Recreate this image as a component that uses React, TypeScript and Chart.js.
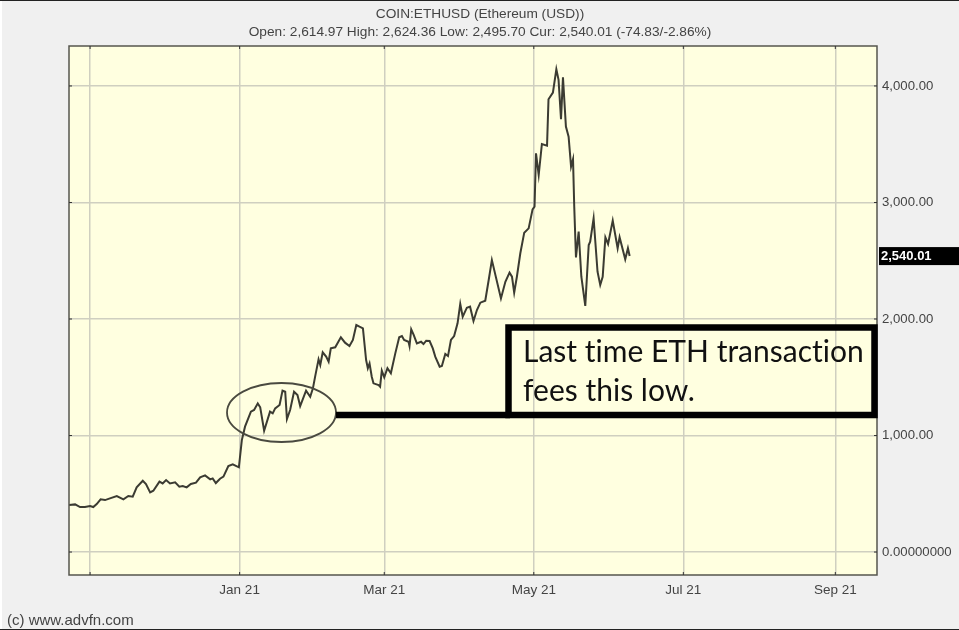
import React, { useEffect, useRef } from "react";
import { Chart, registerables } from "chart.js";

Chart.register(...registerables);

const TITLE = "COIN:ETHUSD (Ethereum (USD))";
const SUBTITLE = "Open: 2,614.97 High: 2,624.36 Low: 2,495.70 Cur: 2,540.01 (-74.83/-2.86%)";
const CREDIT = "(c) www.advfn.com";
const NOTE_LINES = ["Last time ETH transaction", "fees this low."];
const CURRENT_LABEL = "2,540.01";
const CURRENT_VALUE = 2540.01;

// Days since 1 Jan 2021
const days = [
  -69.6, -67.1, -65.1, -63.1, -61, -59.7, -58.3, -56.7, -54.9, -52.9, -50.1, -47.4, -45.4, -43.6, -42, -39.5, -38.2,
  -36.5, -35.2, -32.7, -31.4, -30, -28.4, -26.3, -24.6, -23.2, -21.6, -19.9, -17.8, -16.1, -14.1, -12, -11, -9.7, -8,
  -6.6, -4.6, -2.8, -0.3, 0.9, 2.2, 4.6, 5.9, 7.4, 8.4, 10, 12.4, 13.5, 14.5, 16.3, 17.5, 18.6, 19.3, 20.6, 22.2, 23.6,
  24.7, 27.1, 28.8, 29.9, 30.8, 32.2, 32.9, 33.9, 35.3, 36.3, 37.2, 39, 41.3, 43, 44.8, 46.2, 47.6, 48.9, 50.3, 51.6,
  52.3, 53, 53.9, 54.6, 56.7, 57.3, 58, 59, 60.3, 61.7, 63.5, 65.1, 66.2, 67.1, 68.9, 69.3, 70, 71, 72.3, 74, 75, 76.1,
  77.5, 78.8, 79.8, 81.6, 82.5, 83.9, 85, 86.2, 87.5, 88.9, 90, 91, 92.7, 94, 95.4, 96.8, 98.2, 100.2, 101.6, 102.9,
  106.6, 108.4, 110.1, 111.1, 112, 113.1, 114.5, 116.1, 117.9, 119.5, 120.3, 120.9, 122, 123.3, 125.4, 126, 127.8,
  129.2, 130.1, 131.1, 131.9, 133.1, 134.2, 135.2, 136, 136.5, 137.2, 138.3, 139.4, 141, 142.4, 143, 144.4, 146, 147.1,
  148.1, 149.2, 150.3, 152.2, 154.2, 155, 157.3, 158.4, 159.1,
];

const prices = [
  403, 409, 386, 386, 395, 386, 412, 452, 446, 461, 481, 452, 481, 475, 555, 612, 584,
  512, 526, 604, 589, 618, 589, 598, 561, 567, 555, 584, 595, 641, 658, 624, 632, 592, 629,
  647, 738, 753, 727, 961, 1076, 1205, 1219, 1276, 1242, 1041, 1205, 1190, 1233, 1262, 1385, 1376, 1142, 1219, 1376, 1348,
  1253, 1385, 1333, 1405, 1505, 1654, 1605, 1714, 1677, 1634, 1748, 1757, 1843, 1797, 1768, 1820, 1948, 1934, 1920, 1648,
  1577, 1619, 1505, 1448, 1433, 1419, 1557, 1499, 1577, 1534, 1705, 1843, 1854, 1820, 1805, 1768, 1911, 1863, 1791, 1805, 1785, 1814,
  1811, 1748, 1677, 1591, 1597, 1700, 1682, 1820, 1854, 1963, 2129, 2020, 2097, 2106, 1983, 2077, 2140, 2157, 2335, 2506,
  2177, 2320, 2398, 2363, 2226, 2363, 2564, 2741, 2778, 2941, 2964, 3422, 3236, 3502, 3488, 3886, 3943,
  4143, 4052, 3714, 4074, 3651, 3565, 3308, 3371, 2964, 2529, 2750, 2363, 2112, 2635, 2664, 2864, 2406, 2292,
  2363, 2701, 2644, 2844, 2607, 2701, 2512, 2607, 2540,
];

const xTickDays = [-61, 0, 59, 120, 181, 243];
const xTickLabels = ["", "Jan 21", "Mar 21", "May 21", "Jul 21", "Sep 21"];
const yTickValues = [0, 1000, 2000, 3000, 4000];
const yTickLabels = ["0.00000000", "1,000.00", "2,000.00", "3,000.00", "4,000.00"];

const PAGE_BG = "#f0f0f0";
const PLOT_BG = "#ffffe0";
const GRID = "#cfcfc0";
const AXIS = "#55554e";
const TEXT = "#444444";
const FONT = "'Liberation Sans', Arial, sans-serif";

const chrome = {
  id: "chrome",
  beforeDraw(chart: any) {
    const { ctx, width, height, chartArea: a } = chart;
    ctx.save();
    ctx.fillStyle = PAGE_BG;
    ctx.fillRect(0, 0, width, height);
    ctx.fillStyle = "#ffffff";
    ctx.fillRect(0, 0, 2, height);
    ctx.fillStyle = "#222222";
    ctx.fillRect(0, 0, width, 1);
    ctx.fillRect(0, height - 1, width, 1);
    ctx.fillStyle = PLOT_BG;
    ctx.fillRect(a.left, a.top, a.right - a.left, a.bottom - a.top);
    ctx.restore();
  },
  afterDraw(chart: any) {
    const { ctx, chartArea: a, scales } = chart;
    ctx.save();
    // Frame
    ctx.strokeStyle = AXIS;
    ctx.lineWidth = 1.5;
    ctx.strokeRect(a.left, a.top, a.right - a.left, a.bottom - a.top);
    // Tick notches
    ctx.strokeStyle = "#333333";
    ctx.lineWidth = 1;
    ctx.beginPath();
    xTickDays.forEach((d) => {
      const x = scales.x.getPixelForValue(d);
      ctx.moveTo(x, a.top);
      ctx.lineTo(x, a.top + 3);
      ctx.moveTo(x, a.bottom);
      ctx.lineTo(x, a.bottom - 3);
    });
    yTickValues.forEach((v) => {
      const y = scales.y.getPixelForValue(v);
      ctx.moveTo(a.left, y);
      ctx.lineTo(a.left + 3, y);
      ctx.moveTo(a.right, y);
      ctx.lineTo(a.right - 3, y);
    });
    ctx.stroke();

    // Heading
    ctx.fillStyle = TEXT;
    ctx.font = `13.7px ${FONT}`;
    ctx.textAlign = "center";
    ctx.textBaseline = "middle";
    ctx.fillText(TITLE, 480, 14);
    ctx.fillText(SUBTITLE, 480, 32);

    // Credit
    ctx.textAlign = "left";
    ctx.font = `15px ${FONT}`;
    ctx.fillText(CREDIT, 7, 621);

    // Current price tag
    const cy = scales.y.getPixelForValue(CURRENT_VALUE);
    ctx.fillStyle = "#000000";
    ctx.fillRect(a.right + 2, cy - 9, 959 - a.right - 2, 18);
    ctx.fillStyle = "#ffffff";
    ctx.font = `bold 13px ${FONT}`;
    ctx.fillText(CURRENT_LABEL, a.right + 4, cy + 0.5);

    // Callout
    ctx.strokeStyle = "#4a4a40";
    ctx.lineWidth = 1.8;
    ctx.beginPath();
    ctx.ellipse(281.5, 412.5, 54.5, 29.5, 0, 0, Math.PI * 2);
    ctx.stroke();
    ctx.strokeStyle = "#000000";
    ctx.lineWidth = 6.5;
    ctx.strokeRect(508.5, 327.5, 366, 87.5);
    ctx.beginPath();
    ctx.moveTo(336, 415);
    ctx.lineTo(510, 415);
    ctx.stroke();
    ctx.fillStyle = "#111111";
    ctx.font = `30px Lato, 'Open Sans', sans-serif`;
    (ctx as any).letterSpacing = "0.01px";
    ctx.textBaseline = "middle";
    ctx.fillText(NOTE_LINES[0], 523, 352);
    ctx.fillText(NOTE_LINES[1], 523, 391);
    ctx.restore();
  },
};

export default function App() {
  const ref = useRef<HTMLCanvasElement>(null);
  useEffect(() => {
    document.body.style.margin = "0";
    document.body.style.overflow = "hidden";
    const chart = new Chart(ref.current as HTMLCanvasElement, {
      type: "line",
      data: {
        datasets: [
          {
            label: "ETHUSD",
            data: days.map((d, i) => ({ x: d, y: prices[i] })),
            borderColor: "#3b3b32",
            borderWidth: 2,
            pointRadius: 0,
            tension: 0,
          },
        ],
      },
      options: {
        animation: false,
        responsive: false,
        layout: { padding: { left: 69, top: 46, right: 0, bottom: 0 } },
        plugins: { legend: { display: false }, title: { display: false }, tooltip: { enabled: false } },
        scales: {
          x: {
            type: "linear",
            min: -69.6,
            max: 260,
            afterBuildTicks: (s: any) => {
              s.ticks = xTickDays.map((value) => ({ value }));
            },
            afterFit: (s: any) => {
              s.height = 55;
            },
            border: { display: false },
            grid: { color: GRID, lineWidth: 1.5, drawTicks: false },
            ticks: {
              autoSkip: false,
              maxRotation: 0,
              padding: 7,
              color: TEXT,
              font: { family: FONT, size: 13.5 },
              callback: (v: any) => xTickLabels[xTickDays.indexOf(Number(v))] ?? "",
            },
          },
          y: {
            type: "linear",
            position: "right",
            min: -197,
            max: 4343,
            afterBuildTicks: (s: any) => {
              s.ticks = yTickValues.map((value) => ({ value }));
            },
            afterFit: (s: any) => {
              s.width = 82;
            },
            border: { display: false },
            grid: { color: GRID, lineWidth: 1.5, drawTicks: false },
            ticks: {
              autoSkip: false,
              padding: 5,
              color: TEXT,
              font: { family: FONT, size: 13.2 },
              callback: (v: any) => yTickLabels[yTickValues.indexOf(Number(v))] ?? "",
            },
          },
        },
      },
      plugins: [chrome],
    } as any);
    return () => chart.destroy();
  }, []);
  return <canvas ref={ref} width={959} height={630} style={{ display: "block", width: 959, height: 630 }} />;
}
